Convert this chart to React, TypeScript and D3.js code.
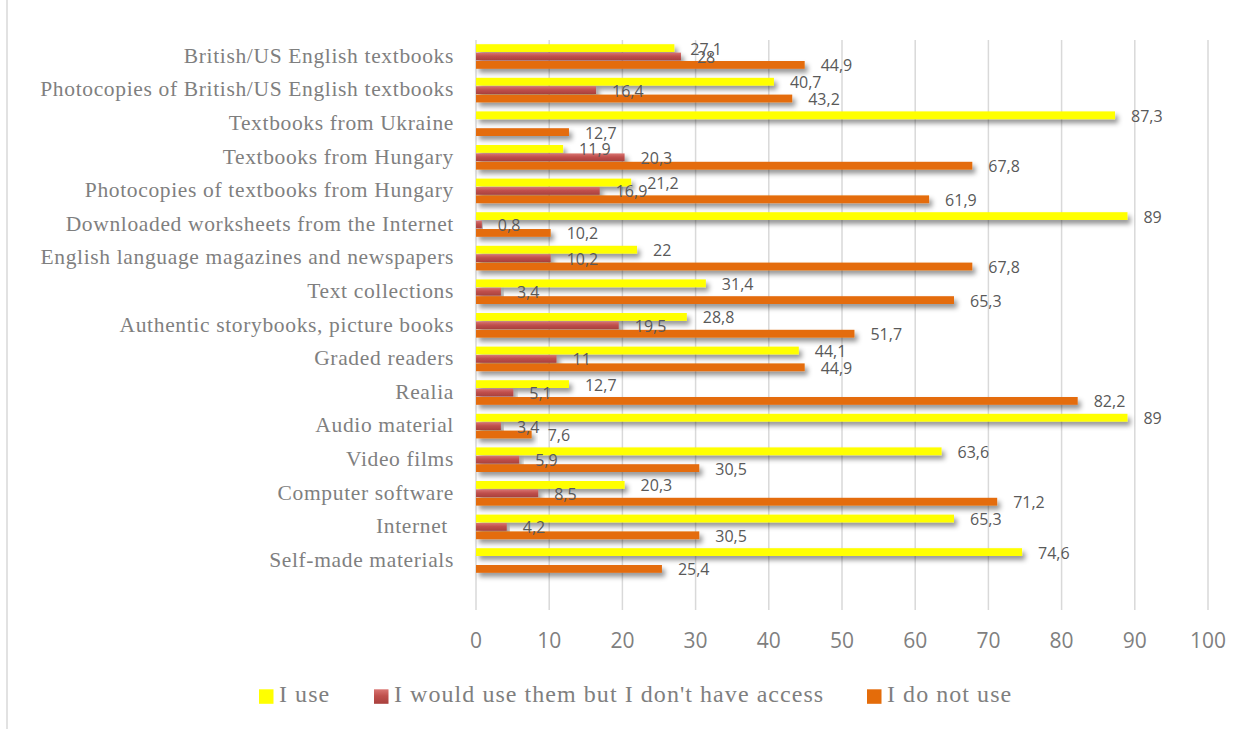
import React from "react";
import * as d3 from "d3";

const categories: string[] = [
  "British/US English textbooks",
  "Photocopies of British/US English textbooks",
  "Textbooks from Ukraine",
  "Textbooks from Hungary",
  "Photocopies of textbooks from Hungary",
  "Downloaded worksheets from the Internet",
  "English language magazines and newspapers",
  "Text collections",
  "Authentic storybooks, picture books",
  "Graded readers",
  "Realia",
  "Audio material",
  "Video films",
  "Computer software",
  "Internet ",
  "Self-made materials",
];

const iUse: (number | null)[] = [27.1, 40.7, 87.3, 11.9, 21.2, 89, 22, 31.4, 28.8, 44.1, 12.7, 89, 63.6, 20.3, 65.3, 74.6];
const noAccess: (number | null)[] = [28, 16.4, null, 20.3, 16.9, 0.8, 10.2, 3.4, 19.5, 11, 5.1, 3.4, 5.9, 8.5, 4.2, null];
const notUse: (number | null)[] = [44.9, 43.2, 12.7, 67.8, 61.9, 10.2, 67.8, 65.3, 51.7, 44.9, 82.2, 7.6, 30.5, 71.2, 30.5, 25.4];

const seriesNames: string[] = ["I use", "I would use them but I don't have access", "I do not use"];
const xTicks: number[] = [0, 10, 20, 30, 40, 50, 60, 70, 80, 90, 100];

const W = 1242;
const H = 729;
const left = 476;
const right = 1208;
const top = 40;
const bandBottom = 577.6;
const gridBottom = 610;

const seriesKeys = ["use", "access", "notuse"];
const fills: Record<string, string> = {
  use: "#FFFF00",
  access: "url(#redGrad)",
  notuse: "#E46C0A",
};
const legendFills = ["#FFFF00", "url(#redGrad)", "#E46C0A"];

const fmt = (v: number) => String(v).replace(".", ",");

export default function App() {
  const x = d3.scaleLinear().domain([0, 100]).range([left, right]);
  const y = d3
    .scaleBand<string>()
    .domain(categories)
    .range([top, bandBottom])
    .paddingInner(0.25)
    .paddingOuter(0.125);
  const inner = d3.scaleBand<string>().domain(seriesKeys).range([0, y.bandwidth()]);

  const rows = categories.map((c, i) => ({
    cat: c,
    values: [
      { key: "use", v: iUse[i] },
      { key: "access", v: noAccess[i] },
      { key: "notuse", v: notUse[i] },
    ],
  }));

  const barH = inner.bandwidth() - 0.6;
  const legendItems = [
    { x: 259, label: seriesNames[0] },
    { x: 374, label: seriesNames[1] },
    { x: 867, label: seriesNames[2] },
  ];

  return (
    <svg
      width={W}
      height={H}
      style={{ position: "absolute", left: 0, top: 0, background: "#fff" }}
    >
      <defs>
        <linearGradient id="redGrad" x1="0" y1="0" x2="0" y2="1">
          <stop offset="0%" stopColor="#D97572" />
          <stop offset="45%" stopColor="#C0504D" />
          <stop offset="100%" stopColor="#A8403D" />
        </linearGradient>
        <filter id="barShadow" x="-5%" y="-60%" width="115%" height="280%">
          <feDropShadow dx="3" dy="4" stdDeviation="2.6" floodColor="#000" floodOpacity="0.42" />
        </filter>
      </defs>

      <rect x={0} y={0} width={W} height={H} fill="#fff" />
      <line x1={7} x2={7} y1={0} y2={H} stroke="#d9d9d9" strokeWidth={1.5} />

      {/* vertical gridlines */}
      {xTicks.map((t) => (
        <line
          key={"g" + t}
          x1={x(t)}
          x2={x(t)}
          y1={top}
          y2={gridBottom}
          stroke="#d9d9d9"
          strokeWidth={1.5}
        />
      ))}

      {/* bars */}
      {rows.map((r) =>
        r.values.map((s) =>
          s.v == null ? null : (
            <rect
              key={r.cat + s.key}
              x={x(0)}
              y={(y(r.cat) as number) + (inner(s.key) as number)}
              width={x(s.v) - x(0)}
              height={barH}
              fill={fills[s.key]}
              filter="url(#barShadow)"
            />
          )
        )
      )}

      {/* value labels */}
      {rows.map((r) =>
        r.values.map((s) =>
          s.v == null ? null : (
            <text
              key={"l" + r.cat + s.key}
              x={x(s.v) + 16}
              y={(y(r.cat) as number) + (inner(s.key) as number) + inner.bandwidth() / 2 + 2}
              dominantBaseline="middle"
              fontFamily="'Open Sans', sans-serif"
              fontSize={16}
              fill="#595959"
            >
              {fmt(s.v)}
            </text>
          )
        )
      )}

      {/* category labels */}
      {categories.map((c) => (
        <text
          key={"c" + c}
          x={454}
          y={(y(c) as number) + y.bandwidth() / 2 + 1}
          textAnchor="end"
          dominantBaseline="middle"
          fontFamily="'Liberation Serif', serif"
          fontSize={21.5}
          letterSpacing={0.65}
          fill="#7f7f7f"
          style={{ whiteSpace: "pre" }}
        >
          {c}
        </text>
      ))}

      {/* x axis tick labels */}
      {xTicks.map((t) => (
        <text
          key={"t" + t}
          x={x(t)}
          y={642}
          textAnchor="middle"
          dominantBaseline="middle"
          fontFamily="'Open Sans', sans-serif"
          fontSize={21}
          fill="#7f7f7f"
        >
          {t}
        </text>
      ))}

      {/* legend */}
      {legendItems.map((it, i) => (
        <g key={"lg" + i}>
          <rect x={it.x} y={689.3} width={14.5} height={14.5} fill={legendFills[i]} />
          <text
            x={it.x + 20}
            y={696.5}
            dominantBaseline="middle"
            fontFamily="'Liberation Serif', serif"
            fontSize={24}
            letterSpacing={1.05}
            fill="#7f7f7f"
          >
            {it.label}
          </text>
        </g>
      ))}
    </svg>
  );
}
